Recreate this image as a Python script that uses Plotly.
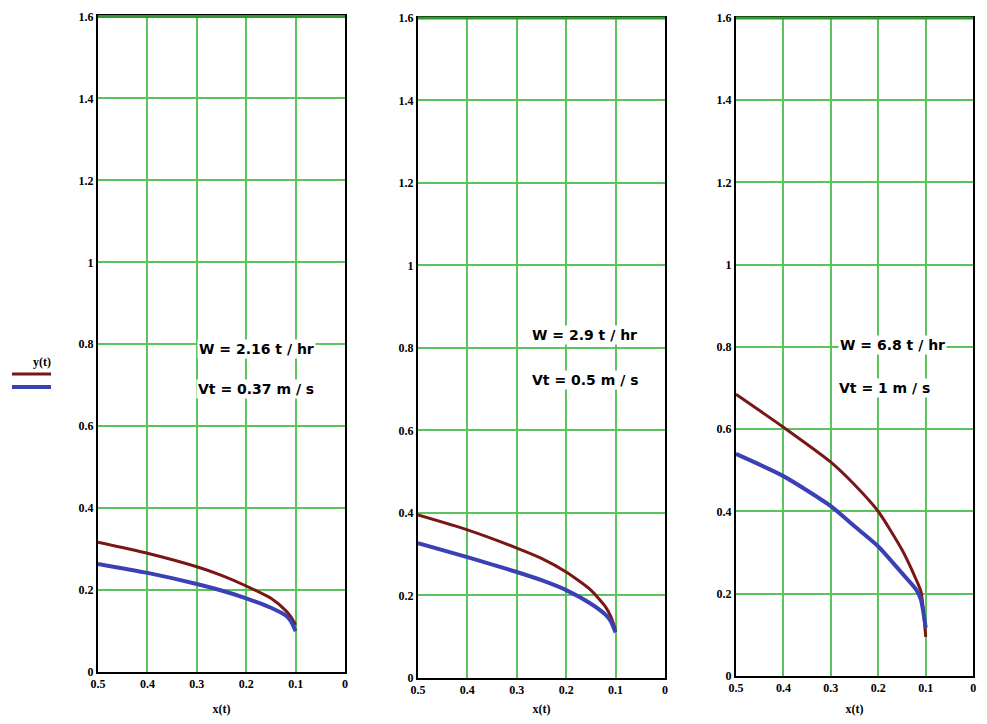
import plotly.graph_objects as go

# x(t) sample positions per panel
x_vals = [0.5, 0.4, 0.3, 0.25, 0.2, 0.15, 0.12, 0.11, 0.1]

# Panel 1: W = 2.16 t/hr, Vt = 0.37 m/s
red_1 = [0.317, 0.290, 0.257, 0.236, 0.210, 0.180, 0.150, 0.135, 0.115]
blue_1 = [0.264, 0.242, 0.215, 0.199, 0.180, 0.157, 0.138, 0.125, 0.100]

# Panel 2: W = 2.9 t/hr, Vt = 0.5 m/s
red_2 = [0.395, 0.359, 0.315, 0.290, 0.257, 0.213, 0.172, 0.150, 0.116]
blue_2 = [0.327, 0.293, 0.257, 0.237, 0.213, 0.180, 0.153, 0.138, 0.110]

# Panel 3: W = 6.8 t/hr, Vt = 1 m/s
red_3 = [0.685, 0.605, 0.520, 0.465, 0.400, 0.307, 0.234, 0.205, 0.095]
blue_3 = [0.540, 0.486, 0.413, 0.364, 0.315, 0.250, 0.210, 0.185, 0.117]

labels_w = ["W = 2.16 t / hr", "W = 2.9 t / hr", "W = 6.8 t / hr"]
labels_v = ["Vt = 0.37 m / s", "Vt = 0.5 m / s", "Vt = 1 m / s"]

x_ticks = [0.5, 0.4, 0.3, 0.2, 0.1, 0]
x_ticklabels = ["0.5", "0.4", "0.3", "0.2", "0.1", "0"]
y_ticks = [0, 0.2, 0.4, 0.6, 0.8, 1.0, 1.2, 1.4, 1.6]
y_ticklabels = ["0", "0.2", "0.4", "0.6", "0.8", "1", "1.2", "1.4", "1.6"]

RED = "#7a1616"
BLUE = "#3b40b5"
GRID = "#5cc45c"

# page body has an 8px margin; figure sized to fit the 987x724 window
W, H = 971, 708
x_domains = [[0.0927, 0.3471], [0.4222, 0.6766], [0.7497, 0.994]]
y_domains = [[0.0621, 0.988], [0.0537, 0.9859], [0.0565, 0.9859]]

# annotation positions (data coords, per panel)
ann_xw = [0.18, 0.162, 0.170]
ann_xv = [0.18, 0.162, 0.186]
ann_yw = [0.789, 0.832, 0.805]
ann_yv = [0.690, 0.722, 0.700]

fig = go.Figure()
panels = [(red_1, blue_1), (red_2, blue_2), (red_3, blue_3)]
tick_font = dict(family="Liberation Serif", size=12, color="black", weight="bold")
title_font = dict(family="Liberation Serif", size=12, color="black")

for i, (r, b) in enumerate(panels):
    n = "" if i == 0 else str(i + 1)
    xa, ya = "x" + n, "y" + n
    fig.add_trace(go.Scatter(x=x_vals, y=r, mode="lines",
                             line=dict(color=RED, width=3, shape="spline", smoothing=0.6),
                             xaxis=xa, yaxis=ya, showlegend=False, cliponaxis=False))
    fig.add_trace(go.Scatter(x=x_vals, y=b, mode="lines",
                             line=dict(color=BLUE, width=4, shape="spline", smoothing=0.6),
                             xaxis=xa, yaxis=ya, showlegend=False, cliponaxis=False))
    axis_common = dict(showline=True, linecolor="black", linewidth=2, mirror=True,
                       showgrid=True, gridcolor=GRID, gridwidth=2, zeroline=False,
                       ticks="", tickfont=tick_font, automargin=False,
                       ticklabeloverflow="allow")
    fig.layout["xaxis" + n] = dict(domain=x_domains[i], anchor=ya, range=[0.5, 0],
                                   tickvals=x_ticks, ticktext=x_ticklabels,
                                   title=dict(text="<b>x(t)</b>", font=title_font, standoff=14),
                                   **axis_common)
    fig.layout["yaxis" + n] = dict(domain=y_domains[i], anchor=xa, range=[0, 1.6],
                                   tickvals=y_ticks, ticktext=y_ticklabels, **axis_common)
    # green top border line
    fig.add_shape(type="line", xref=xa + " domain", yref=ya + " domain", x0=0, x1=1, y0=1, y1=1,
                  line=dict(color="#2e9a2e", width=3), layer="above")
    fig.add_annotation(x=ann_xw[i], y=ann_yw[i], xref=xa, yref=ya, text="<b>" + labels_w[i] + "</b>",
                       showarrow=False, bgcolor="white",
                       font=dict(family="DejaVu Sans", size=14, color="black"))
    fig.add_annotation(x=ann_xv[i], y=ann_yv[i], xref=xa, yref=ya, text="<b>" + labels_v[i] + "</b>",
                       showarrow=False, bgcolor="white",
                       font=dict(family="DejaVu Sans", size=14, color="black"))

# y(t) label with legend swatches on the left
fig.add_annotation(x=0.0237, y=0.50, xref="paper", yref="paper", text="<b>y(t)</b>",
                   showarrow=False, font=title_font)
fig.add_shape(type="line", xref="paper", yref="paper", x0=0.0041, x1=0.0443,
              y0=0.4831, y1=0.4831, line=dict(color=RED, width=3))
fig.add_shape(type="line", xref="paper", yref="paper", x0=0.0041, x1=0.0443,
              y0=0.4647, y1=0.4647, line=dict(color=BLUE, width=4))

fig.update_layout(width=W, height=H, margin=dict(l=0, r=0, t=0, b=0),
                  paper_bgcolor="white", plot_bgcolor="white", showlegend=False)

fig.write_html("out.html")
